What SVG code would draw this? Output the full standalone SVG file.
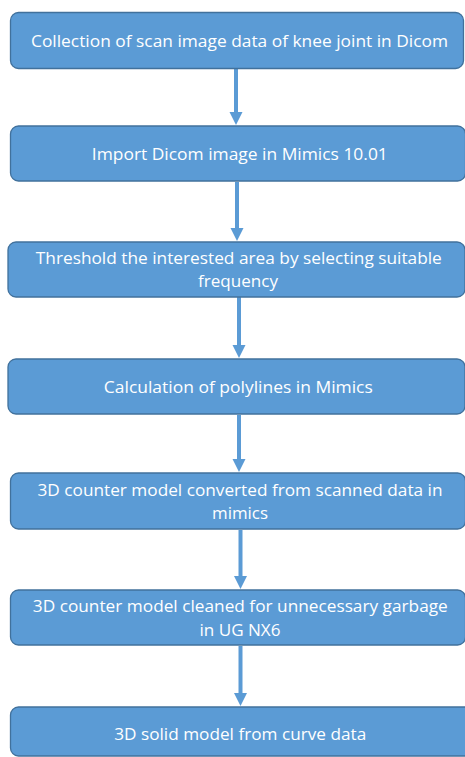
<svg xmlns="http://www.w3.org/2000/svg" width="465" height="757" viewBox="0 0 465 757">
  <style>
    .box { fill: #5B9BD5; stroke: #41719C; stroke-width: 1.3; }
    .label { fill: #FFFFFF; font-family: "Open Sans", "Liberation Sans", sans-serif; font-size: 16.8px; text-anchor: middle; }
    .shaft { stroke: #5B9BD5; stroke-width: 4; fill: none; }
    .head { fill: #5B9BD5; }
  </style>
  <rect width="465" height="757" fill="#FFFFFF"/>

  <g id="connectors">
    <line class="shaft" x1="236" y1="69" x2="236" y2="113"/>
    <polygon class="head" points="229.5,112 242.5,112 236,125"/>
    <line class="shaft" x1="237" y1="182" x2="237" y2="229"/>
    <polygon class="head" points="230.5,228 243.5,228 237,241"/>
    <line class="shaft" x1="239" y1="297" x2="239" y2="346"/>
    <polygon class="head" points="232.5,345 245.5,345 239,358"/>
    <line class="shaft" x1="239" y1="415" x2="239" y2="460"/>
    <polygon class="head" points="232.5,459 245.5,459 239,472"/>
    <line class="shaft" x1="240.5" y1="530" x2="240.5" y2="577"/>
    <polygon class="head" points="234,576 247,576 240.5,589"/>
    <line class="shaft" x1="240.5" y1="646" x2="240.5" y2="694"/>
    <polygon class="head" points="234,693 247,693 240.5,706"/>
  </g>

  <g id="step1">
    <rect class="box" x="10.5" y="12.5" width="453" height="56" rx="8"/>
    <text class="label" x="239.5" y="46.5" textLength="417" lengthAdjust="spacingAndGlyphs">Collection of scan image data of knee joint in Dicom</text>
  </g>

  <g id="step2">
    <rect class="box" x="10.5" y="126" width="455" height="55" rx="8"/>
    <text class="label" x="239.8" y="159.5" textLength="296" lengthAdjust="spacingAndGlyphs">Import Dicom image in Mimics 10.01</text>
  </g>

  <g id="step3">
    <rect class="box" x="8" y="242" width="457" height="55" rx="8"/>
    <text class="label" x="238.8" y="263.5" textLength="406" lengthAdjust="spacingAndGlyphs">Threshold the interested area by selecting suitable</text>
    <text class="label" x="238" y="286.5" textLength="80" lengthAdjust="spacingAndGlyphs">frequency</text>
  </g>

  <g id="step4">
    <rect class="box" x="8" y="359" width="457" height="55" rx="8"/>
    <text class="label" x="238.3" y="393" textLength="269" lengthAdjust="spacingAndGlyphs">Calculation of polylines in Mimics</text>
  </g>

  <g id="step5">
    <rect class="box" x="10.5" y="473" width="455" height="56" rx="8"/>
    <text class="label" x="240" y="495.5" textLength="405" lengthAdjust="spacingAndGlyphs">3D counter model converted from scanned data in</text>
    <text class="label" x="240" y="519" textLength="56" lengthAdjust="spacingAndGlyphs">mimics</text>
  </g>

  <g id="step6">
    <rect class="box" x="10.5" y="590" width="455" height="55" rx="8"/>
    <text class="label" x="240.3" y="611.5" textLength="415" lengthAdjust="spacingAndGlyphs">3D counter model cleaned for unnecessary garbage</text>
    <text class="label" x="240" y="635.5" textLength="81" lengthAdjust="spacingAndGlyphs">in UG NX6</text>
  </g>

  <g id="step7">
    <rect class="box" x="10.5" y="707" width="465" height="49" rx="8"/>
    <text class="label" x="240.2" y="740" textLength="252" lengthAdjust="spacingAndGlyphs">3D solid model from curve data</text>
  </g>
</svg>
